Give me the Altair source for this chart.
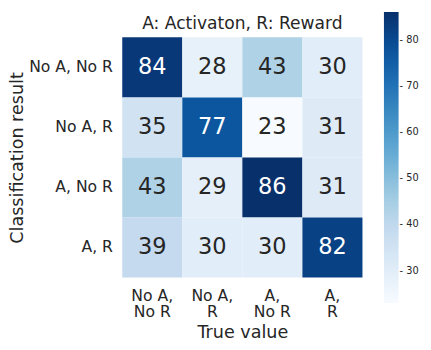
import altair as alt
import pandas as pd

rows = ["No A, No R", "No A, R", "A, No R", "A, R"]
cols = ["No A,\nNo R", "No A,\nR", "A,\nNo R", "A,\nR"]
row_vals = [
    [84, 28, 43, 30],
    [35, 77, 23, 31],
    [43, 29, 86, 31],
    [39, 30, 30, 82],
]
legend_ticks = [30, 40, 50, 60, 70, 80]
blues = ["#f7fbff", "#deebf7", "#c6dbef", "#9ecae1", "#6baed6",
         "#4292c6", "#2171b5", "#08519c", "#08306b"]

records = []
for r, vals in zip(rows, row_vals):
    for c, v in zip(cols, vals):
        records.append({"row": r, "col": c, "value": v})
df = pd.DataFrame(records)

vmin = min(min(v) for v in row_vals)
vmax = max(max(v) for v in row_vals)
n = len(blues) - 1
domain = [vmin + i * (vmax - vmin) / n for i in range(n + 1)]

FONT = "DejaVu Sans"
TXT = "#262626"

x_enc = alt.X("col:N", sort=cols, axis=alt.Axis(
    title="True value", labelAngle=0, ticks=False, domain=False,
    labelFontSize=16, titleFontSize=18, labelPadding=10,
    labelExpr="split(datum.label, '\\n')", labelLineHeight=17,
    titlePadding=4, titleFontWeight="normal",
    labelFont=FONT, titleFont=FONT, labelColor=TXT, titleColor=TXT))
y_enc = alt.Y("row:N", sort=rows, axis=alt.Axis(
    title="Classification result", ticks=False, domain=False,
    labelFontSize=16, titleFontSize=18, labelPadding=10,
    titlePadding=2, titleFontWeight="normal",
    labelFont=FONT, titleFont=FONT, labelColor=TXT, titleColor=TXT))

heat = alt.Chart(df).mark_rect().encode(
    x=x_enc, y=y_enc,
    color=alt.Color("value:Q",
                    scale=alt.Scale(domain=domain, range=blues, interpolate="rgb"),
                    legend=alt.Legend(orient="none", legendX=268, legendY=-26,
                                      direction="vertical", gradientLength=298,
                                      gradientThickness=15, values=legend_ticks,
                                      title=None, labelFontSize=10, labelOffset=1,
                                      labelExpr="'- ' + datum.label",
                                      labelColor=TXT, labelFont=FONT,
                                      gradientStrokeWidth=0))
)

text = alt.Chart(df).mark_text(fontSize=23, font=FONT, baseline="middle").encode(
    x=alt.X("col:N", sort=cols),
    y=alt.Y("row:N", sort=rows),
    text="value:Q",
    color=alt.condition(alt.datum.value > 60, alt.value("white"), alt.value(TXT)),
)

chart = alt.layer(heat, text).properties(
    width=246, height=246,
    title=alt.TitleParams("A: Activaton, R: Reward", fontSize=17.5, font=FONT,
                          color=TXT, fontWeight="normal", offset=5, dy=26,
                          anchor="middle"),
    autosize=alt.AutoSizeParams(type="none"),
    padding={"left": 117, "top": 26, "right": 62, "bottom": 66},
    background="white",
).configure_view(stroke=None).configure_axis(grid=False)

chart.save("out.html", embed_options={"renderer": "svg", "actions": False})
